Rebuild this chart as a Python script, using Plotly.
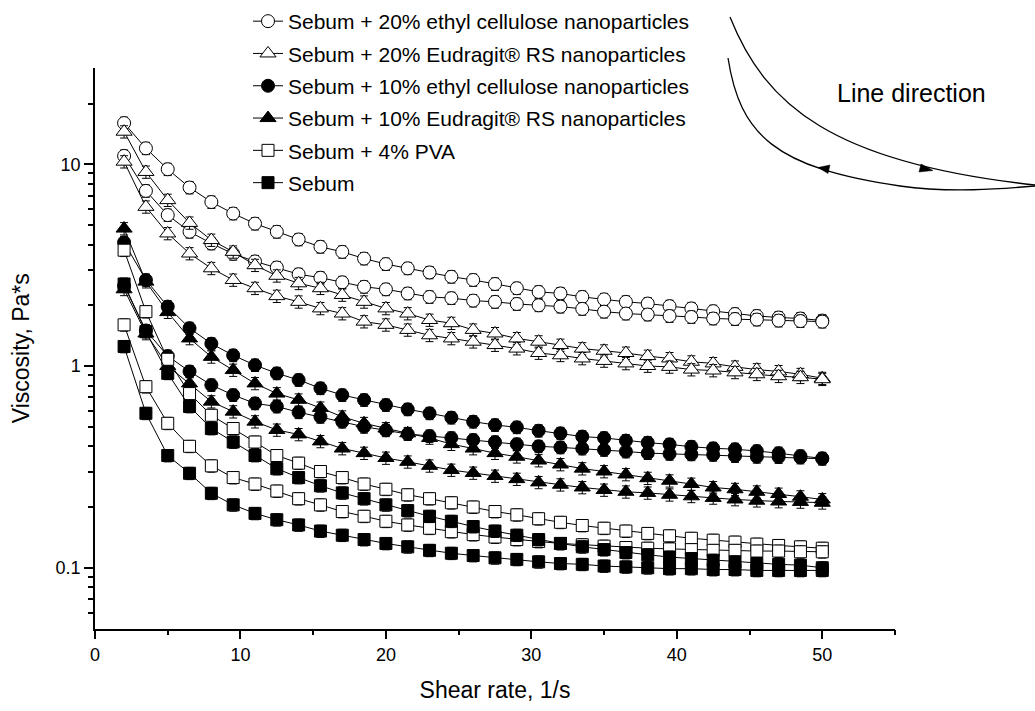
import plotly.graph_objects as go

# ---------------- data ----------------
shear_rate = [2, 3.5, 5, 6.5, 8, 9.5, 11, 12.5, 14, 15.5, 17, 18.5, 20, 21.5, 23, 24.5,
              26, 27.5, 29, 30.5, 32, 33.5, 35, 36.5, 38, 39.5, 41, 42.5, 44, 45.5, 47, 48.5, 50]

ec20_up = [16.0, 12.0, 9.45, 7.67, 6.5, 5.7, 5.08, 4.63, 4.24, 3.90, 3.68, 3.41, 3.20, 3.05, 2.91, 2.77,
           2.67, 2.55, 2.43, 2.33, 2.29, 2.20, 2.14, 2.08, 2.04, 1.98, 1.93, 1.87, 1.81, 1.77, 1.74, 1.72, 1.68]
ec20_down = [11.0, 7.38, 5.6, 4.63, 4.05, 3.6, 3.3, 3.08, 2.85, 2.74, 2.60, 2.47, 2.40, 2.29, 2.20, 2.17,
             2.11, 2.08, 2.03, 2.00, 1.97, 1.92, 1.86, 1.82, 1.80, 1.77, 1.75, 1.72, 1.71, 1.70, 1.68, 1.67, 1.66]

eud20_up = [14.5, 9.16, 6.64, 5.12, 4.21, 3.68, 3.16, 2.80, 2.57, 2.43, 2.25, 2.08, 1.93, 1.82, 1.69, 1.63,
            1.51, 1.45, 1.37, 1.32, 1.27, 1.22, 1.19, 1.16, 1.12, 1.09, 1.05, 1.03, 0.99, 0.96, 0.94, 0.91, 0.87]
eud20_down = [10.3, 6.15, 4.54, 3.61, 3.05, 2.67, 2.43, 2.22, 2.08, 1.93, 1.82, 1.66, 1.60, 1.51, 1.42, 1.37,
              1.32, 1.27, 1.22, 1.16, 1.13, 1.09, 1.06, 1.03, 1.00, 0.99, 0.96, 0.95, 0.93, 0.91, 0.89, 0.88, 0.86]

ec10_up = [4.1, 2.67, 1.97, 1.54, 1.29, 1.13, 1.01, 0.92, 0.853, 0.776, 0.718, 0.679, 0.641, 0.61, 0.583, 0.555,
           0.53, 0.51, 0.497, 0.478, 0.464, 0.447, 0.44, 0.427, 0.417, 0.409, 0.398, 0.391, 0.387, 0.379, 0.370, 0.358, 0.349]
ec10_down = [2.5, 1.5, 1.12, 0.94, 0.805, 0.718, 0.653, 0.63, 0.59, 0.56, 0.53, 0.50, 0.48, 0.46, 0.45, 0.44,
             0.43, 0.42, 0.41, 0.40, 0.395, 0.39, 0.384, 0.377, 0.370, 0.367, 0.365, 0.363, 0.358, 0.355, 0.354, 0.352, 0.347]

eud10_up = [4.8, 2.62, 1.85, 1.37, 1.11, 0.955, 0.82, 0.73, 0.68, 0.62, 0.56, 0.52, 0.49, 0.464, 0.44, 0.41,
            0.39, 0.37, 0.355, 0.34, 0.325, 0.31, 0.30, 0.29, 0.278, 0.27, 0.26, 0.25, 0.245, 0.238, 0.232, 0.225, 0.218]
eud10_down = [2.4, 1.45, 1.0, 0.82, 0.666, 0.594, 0.53, 0.482, 0.458, 0.423, 0.39, 0.37, 0.35, 0.335, 0.32, 0.305,
              0.295, 0.285, 0.275, 0.265, 0.258, 0.25, 0.243, 0.238, 0.235, 0.23, 0.226, 0.222, 0.218, 0.215, 0.213, 0.212, 0.21]

pva_up = [3.75, 1.86, 1.08, 0.73, 0.57, 0.49, 0.42, 0.36, 0.33, 0.30, 0.28, 0.26, 0.245, 0.23, 0.22, 0.21,
          0.20, 0.19, 0.183, 0.175, 0.168, 0.162, 0.157, 0.152, 0.148, 0.144, 0.14, 0.137, 0.134, 0.131, 0.129, 0.127, 0.125]
pva_down = [1.6, 0.79, 0.52, 0.40, 0.32, 0.28, 0.26, 0.24, 0.22, 0.205, 0.19, 0.18, 0.17, 0.163, 0.157, 0.151,
            0.146, 0.142, 0.138, 0.135, 0.132, 0.13, 0.128, 0.126, 0.125, 0.124, 0.123, 0.122, 0.122, 0.121, 0.121, 0.12, 0.12]

sebum_up = [2.55, 1.48, 0.92, 0.63, 0.49, 0.42, 0.36, 0.31, 0.28, 0.255, 0.235, 0.22, 0.205, 0.192, 0.18, 0.17,
            0.16, 0.152, 0.145, 0.138, 0.132, 0.127, 0.123, 0.119, 0.116, 0.113, 0.111, 0.109, 0.107, 0.105, 0.104, 0.103, 0.1]
sebum_down = [1.25, 0.583, 0.36, 0.294, 0.234, 0.205, 0.186, 0.173, 0.163, 0.152, 0.145, 0.138, 0.132, 0.127, 0.122, 0.118,
              0.115, 0.112, 0.11, 0.107, 0.105, 0.104, 0.102, 0.101, 0.1, 0.099, 0.099, 0.098, 0.098, 0.097, 0.097, 0.097, 0.097]

series_names = ["Sebum + 20% ethyl cellulose nanoparticles",
                "Sebum + 20% Eudragit® RS nanoparticles",
                "Sebum + 10% ethyl cellulose nanoparticles",
                "Sebum + 10% Eudragit® RS nanoparticles",
                "Sebum + 4% PVA",
                "Sebum"]
series_up = [ec20_up, eud20_up, ec10_up, eud10_up, pva_up, sebum_up]
series_down = [ec20_down, eud20_down, ec10_down, eud10_down, pva_down, sebum_down]
error_percent = 7

x_ticks = [0, 10, 20, 30, 40, 50]
x_minor = [5, 15, 25, 35, 45, 55]
y_ticks = [0.1, 1, 10]
y_ticktext = ["0.1", "1", "10"]
y_minor = [0.06, 0.07, 0.08, 0.09, 0.2, 0.3, 0.4, 0.5, 0.6, 0.7, 0.8, 0.9,
           2, 3, 4, 5, 6, 7, 8, 9, 20]

# ---------------- styles ----------------
W, H = 1035, 711
styles = [
    dict(symbol="circle", color="white", size=13),
    dict(symbol="triangle-up", color="white", size=14),
    dict(symbol="circle", color="black", size=13),
    dict(symbol="triangle-up", color="black", size=14),
    dict(symbol="square", color="white", size=12),
    dict(symbol="square", color="black", size=12),
]

fig = go.Figure()
for i, name in enumerate(series_names):
    st = styles[i]
    for k, yv in enumerate([series_up[i], series_down[i]]):
        fig.add_trace(go.Scatter(
            x=shear_rate, y=yv, mode="lines+markers",
            name=name, legendgroup=f"g{i}", showlegend=(k == 0),
            line=dict(color="black", width=1),
            marker=dict(symbol=st["symbol"], size=st["size"], color=st["color"],
                        line=dict(color="black", width=1)),
            error_y=dict(type="percent", value=error_percent, color="black",
                         thickness=1, width=4),
        ))

def px(x):
    return x / W

def py(y):
    return 1 - y / H

# decorative "line direction" curves
def path(pts):
    s = f"M {px(pts[0][0])},{py(pts[0][1])}"
    for j in range(1, len(pts), 3):
        a, b, c = pts[j], pts[j + 1], pts[j + 2]
        s += f" C {px(a[0])},{py(a[1])} {px(b[0])},{py(b[1])} {px(c[0])},{py(c[1])}"
    return s

upper = [(730, 17), (765, 105), (832, 163), (1035, 185)]
lower = [(728, 58), (740, 135), (775, 168), (900, 186), (950, 193), (1000, 189), (1035, 186)]
shapes = [
    dict(type="path", xref="paper", yref="paper", path=path(upper),
         line=dict(color="black", width=1.3)),
    dict(type="path", xref="paper", yref="paper", path=path(lower),
         line=dict(color="black", width=1.3)),
]
def tri(p1, p2, p3):
    return (f"M {px(p1[0])},{py(p1[1])} L {px(p2[0])},{py(p2[1])} "
            f"L {px(p3[0])},{py(p3[1])} Z")
shapes.append(dict(type="path", xref="paper", yref="paper",
                   path=tri((933, 170.5), (921, 164), (919, 172)),
                   fillcolor="black", line=dict(color="black", width=0.5)))
shapes.append(dict(type="path", xref="paper", yref="paper",
                   path=tri((818, 167.5), (830, 165), (828, 173.5)),
                   fillcolor="black", line=dict(color="black", width=0.5)))

fig.update_layout(
    width=W, height=H,
    margin=dict(l=0, r=0, t=0, b=0),
    paper_bgcolor="white", plot_bgcolor="white",
    font=dict(family="Liberation Sans, Arial, sans-serif", color="black", size=18),
    showlegend=True,
    legend=dict(x=px(248), y=py(1), xanchor="left", yanchor="top",
                font=dict(size=21), tracegroupgap=2, bgcolor="rgba(0,0,0,0)",
                itemwidth=30),
    shapes=shapes,
    annotations=[dict(text="Line direction", x=px(911), y=py(93), xref="paper", yref="paper",
                      showarrow=False, font=dict(size=25), xanchor="center", yanchor="middle")],
)

fig.update_xaxes(
    domain=[px(95), px(895)], range=[0, 55],
    showline=True, linecolor="black", linewidth=1.5,
    ticks="outside", ticklen=9, tickwidth=1.5, tickcolor="black",
    tickvals=x_ticks, showgrid=False, zeroline=False,
    tickfont=dict(size=18),
    minor=dict(tickvals=x_minor, ticks="outside", ticklen=5, tickwidth=1.5, tickcolor="black", showgrid=False),
    title=dict(text="Shear rate, 1/s", font=dict(size=23), standoff=18),
    automargin=False, anchor="y",
)
fig.update_yaxes(
    type="log", domain=[py(628.5), py(68)], range=[-1.30103, 1.47712],
    showline=True, linecolor="black", linewidth=1.5,
    ticks="outside", ticklen=9, tickwidth=1.5, tickcolor="black",
    tickvals=y_ticks, ticktext=y_ticktext, showgrid=False, zeroline=False,
    tickfont=dict(size=18),
    minor=dict(tickvals=y_minor, ticks="outside", ticklen=5, tickwidth=1.5, tickcolor="black", showgrid=False),
    title=dict(text="Viscosity, Pa*s", font=dict(size=23), standoff=20),
    automargin=False, anchor="x",
)

fig.write_html("out.html")
